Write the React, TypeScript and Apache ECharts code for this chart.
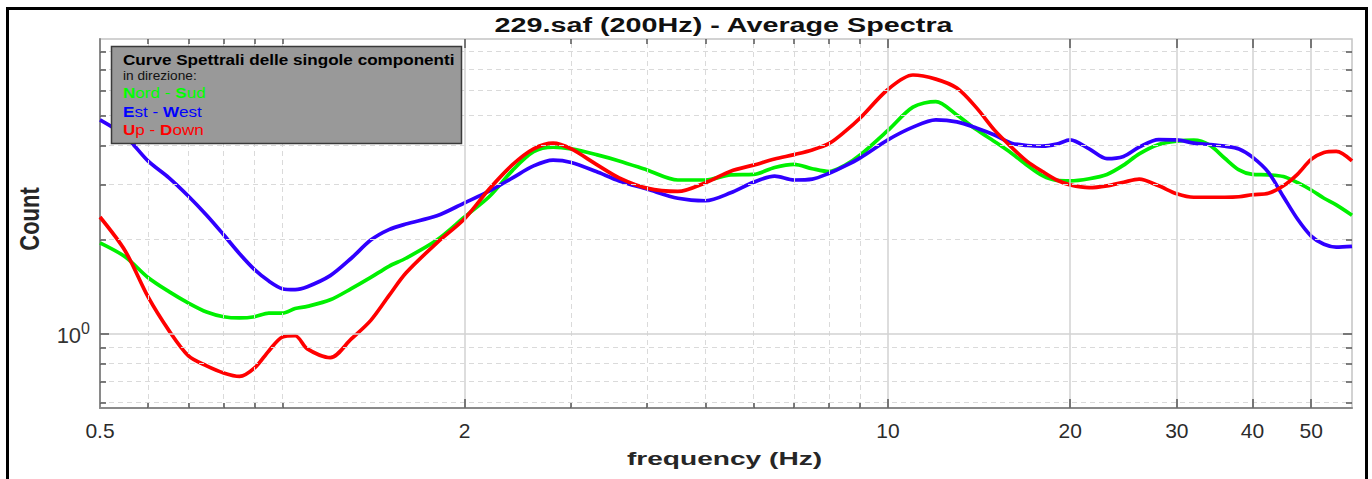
import React, { useEffect, useRef } from "react";
import * as echarts from "echarts";

// ---- data ----
const freqs = [
  0.5, 0.55, 0.6, 0.65, 0.7, 0.75, 0.8, 0.85, 0.9, 0.95,
  1.0, 1.05, 1.1, 1.2, 1.3, 1.4, 1.5, 1.6, 1.8,
  2.0, 2.2, 2.4, 2.6, 2.8, 3.0, 3.3, 3.6,
  4.0, 4.5, 5.0, 5.5, 6.0, 6.5, 7.0, 7.5, 8.0, 8.5, 9.0,
  10, 11, 12, 13, 14, 15, 16, 17, 18, 19,
  20, 21.5, 23, 24.5, 26, 28, 30, 32, 34, 36, 38,
  40, 42.5, 45, 47.5, 50, 52.5, 55, 58.4,
];

const nordSud = [
  1.95, 1.76, 1.51, 1.36, 1.25, 1.17, 1.13, 1.12, 1.13, 1.16,
  1.16, 1.2, 1.22, 1.28, 1.39, 1.51, 1.64, 1.74, 1.99,
  2.36, 2.75, 3.33, 3.82, 3.95, 3.9, 3.74, 3.57,
  3.34, 3.1, 3.1, 3.22, 3.23, 3.4, 3.48, 3.37, 3.3, 3.46, 3.73,
  4.47, 5.31, 5.53, 5.01, 4.5, 4.12, 3.78, 3.45, 3.2, 3.09,
  3.08, 3.13, 3.23, 3.46, 3.76, 4.03, 4.13, 4.16, 4.01, 3.64, 3.34,
  3.23, 3.22, 3.18, 3.04, 2.88, 2.71, 2.58, 2.39,
];

const estWest = [
  4.83, 4.29, 3.57, 3.15, 2.75, 2.39, 2.07, 1.8, 1.6, 1.47,
  1.39, 1.38, 1.41, 1.53, 1.74, 1.99, 2.15, 2.24, 2.38,
  2.62, 2.86, 3.15, 3.44, 3.59, 3.53, 3.3, 3.08,
  2.9, 2.71, 2.66, 2.82, 3.05, 3.19, 3.1, 3.12, 3.26, 3.44, 3.65,
  4.17, 4.58, 4.83, 4.76, 4.55, 4.32, 4.07, 4.0, 3.98, 4.04,
  4.17, 3.9, 3.63, 3.69, 3.95, 4.18, 4.17, 4.07, 4.03, 3.98, 3.9,
  3.67, 3.28, 2.74, 2.32, 2.05, 1.93, 1.89, 1.9,
];

const upDown = [
  2.36, 1.84, 1.31, 1.02, 0.846, 0.786, 0.746, 0.727, 0.774, 0.878,
  0.972, 0.982, 0.891, 0.835, 0.959, 1.1, 1.32, 1.56, 1.95,
  2.33, 2.91, 3.47, 3.9, 4.07, 3.9, 3.48, 3.15,
  2.92, 2.85, 3.04, 3.31, 3.46, 3.62, 3.74, 3.87, 4.06, 4.44, 4.9,
  6.05, 6.73, 6.53, 6.11, 5.29, 4.48, 3.95, 3.55, 3.3, 3.1,
  2.99, 2.93, 2.97, 3.05, 3.12, 2.97, 2.8, 2.73, 2.73, 2.73, 2.74,
  2.78, 2.81, 2.97, 3.24, 3.61, 3.8, 3.83, 3.57,
];

const xTickValues = [0.5, 2, 10, 20, 30, 40, 50];
const xTickLabels = ["0.5", "2", "10", "20", "30", "40", "50"];
const xMinorGrid = [0.6, 0.7, 0.8, 0.9, 1, 3, 4, 5, 6, 7, 8, 9];
const yMinorGrid = [0.6, 0.7, 0.8, 0.9, 2, 3, 4, 5, 6, 7, 8];
const yMajorGrid = [1];

const X_MIN = 0.5;
const X_MAX = 58.4;
const Y_MIN = 0.576;
const Y_MAX = 8.78;

const FONT = "'Liberation Sans', Arial, Helvetica, sans-serif";

export default function App() {
  const ref = useRef<HTMLDivElement>(null);

  useEffect(() => {
    if (!ref.current) return;
    const chart = echarts.init(ref.current, undefined, { renderer: "svg" });

    const plotW = 1252;
    const plotH = 369;
    const ky = (len: number) => Math.pow(Y_MAX / Y_MIN, len / plotH);
    const kx = (len: number) => Math.pow(X_MAX / X_MIN, len / plotW);

    const dashed = { color: "#dadada", width: 1, type: [5, 4] as any };
    const solid = { color: "#d2d2d2", width: 1.5, type: "solid" as any };

    const gridLines: any[] = [];
    xMinorGrid.forEach((v) => gridLines.push({ xAxis: v, lineStyle: dashed }));
    xTickValues.forEach((v, i) =>
      gridLines.push({
        xAxis: v,
        lineStyle: i === 0 ? { color: "transparent", width: 0 } : solid,
        label: {
          show: true,
          position: "start",
          formatter: xTickLabels[i],
          color: "#2b2b2b",
          fontSize: 21,
          fontFamily: FONT,
          distance: 12,
        },
      })
    );
    yMinorGrid.forEach((v) => gridLines.push({ yAxis: v, lineStyle: dashed }));
    yMajorGrid.forEach((v) => gridLines.push({ yAxis: v, lineStyle: solid }));

    const tickStyle = { color: "#555555", width: 1.5, type: "solid" as any };
    const ticks: any[] = [];
    const xTicksAll = [
      ...xMinorGrid.map((v) => ({ v, len: 5 })),
      ...xTickValues.slice(1).map((v) => ({ v, len: 9 })),
    ];
    xTicksAll.forEach(({ v, len }) => {
      ticks.push([
        { coord: [v, Y_MIN], lineStyle: tickStyle },
        { coord: [v, Y_MIN * ky(len)] },
      ]);
      ticks.push([
        { coord: [v, Y_MAX], lineStyle: tickStyle },
        { coord: [v, Y_MAX / ky(len)] },
      ]);
    });
    const yTicksAll = [
      ...yMinorGrid.map((v) => ({ v, len: 6 })),
      ...yMajorGrid.map((v) => ({ v, len: 9 })),
    ];
    yTicksAll.forEach(({ v, len }) => {
      ticks.push([
        { coord: [X_MIN, v], lineStyle: tickStyle },
        { coord: [X_MIN * kx(len), v] },
      ]);
      ticks.push([
        { coord: [X_MAX, v], lineStyle: tickStyle },
        { coord: [X_MAX / kx(len), v] },
      ]);
    });

    const curve = (name: string, vals: number[], color: string) => ({
      name,
      type: "line",
      data: freqs.map((f, i) => [f, vals[i]]),
      smooth: 0.3,
      showSymbol: false,
      symbol: "none",
      z: 3,
      lineStyle: { color, width: 3.7 },
      itemStyle: { color },
      silent: true,
    });

    chart.setOption({
      animation: false,
      backgroundColor: "#ffffff",
      grid: {
        left: 100,
        right: 20,
        top: 39,
        bottom: 71,
        show: true,
        borderColor: "#c4c4c4",
        borderWidth: 1.5,
        backgroundColor: "#ffffff",
      },
      xAxis: {
        type: "log",
        logBase: 10,
        min: X_MIN,
        max: X_MAX,
        axisLabel: { show: false },
        axisTick: { show: false },
        splitLine: { show: false },
        axisLine: { show: true, lineStyle: { color: "#8a8a8a", width: 2 } },
      },
      yAxis: {
        type: "log",
        logBase: 10,
        min: Y_MIN,
        max: Y_MAX,
        axisTick: { show: false },
        splitLine: { show: false },
        axisLine: { show: true, lineStyle: { color: "#8a8a8a", width: 2 } },
        axisLabel: {
          show: true,
          showMinLabel: false,
          showMaxLabel: false,
          margin: 10,
          formatter: (v: number) => (Math.abs(v - 1) < 1e-6 ? "{a|10}{b|0}" : ""),
          rich: {
            a: { fontSize: 22, color: "#333333", fontFamily: FONT, verticalAlign: "bottom" },
            b: {
              fontSize: 16,
              color: "#333333",
              fontFamily: FONT,
              verticalAlign: "bottom",
              padding: [0, 0, 10, 0],
            },
          },
        },
      },
      series: [
        {
          name: "grid",
          type: "line",
          data: [],
          z: 1,
          silent: true,
          markLine: {
            silent: true,
            symbol: "none",
            animation: false,
            label: { show: false },
            emphasis: { disabled: true },
            data: [...gridLines, ...ticks],
          },
        },
        curve("Nord - Sud", nordSud, "#00f000"),
        curve("Est - West", estWest, "#3000ff"),
        curve("Up - Down", upDown, "#ff0000"),
      ],
      graphic: [
        {
          type: "rect",
          z: 200,
          silent: true,
          shape: { x: 7.5, y: 8.5, width: 1359, height: 490 },
          style: { fill: "none", stroke: "#000000", lineWidth: 3 },
        },
        {
          type: "text",
          z: 200,
          x: 723.5,
          y: 24.5,
          scaleX: 1.37,
          style: {
            text: "229.saf (200Hz) - Average Spectra",
            fontSize: 21,
            fontWeight: "bold",
            fontFamily: FONT,
            fill: "#111111",
            align: "center",
            verticalAlign: "middle",
          },
        },
        {
          type: "text",
          z: 200,
          x: 724.5,
          y: 458.5,
          scaleX: 1.48,
          style: {
            text: "frequency (Hz)",
            fontSize: 19,
            fontWeight: "bold",
            fontFamily: FONT,
            fill: "#262626",
            align: "center",
            verticalAlign: "middle",
          },
        },
        {
          type: "text",
          z: 200,
          x: 29,
          y: 219,
          rotation: Math.PI / 2,
          scaleY: 1.27,
          style: {
            text: "Count",
            fontSize: 22,
            fontWeight: "bold",
            fontFamily: FONT,
            fill: "#262626",
            align: "center",
            verticalAlign: "middle",
          },
        },
        {
          type: "rect",
          z: 150,
          silent: true,
          shape: { x: 111.5, y: 46.5, width: 350, height: 97 },
          style: { fill: "#999999", stroke: "#3a3a3a", lineWidth: 1.5 },
        },
        {
          type: "group",
          z: 160,
          x: 123,
          y: 0,
          scaleX: 1.14,
          children: [
            {
              type: "text",
              z: 160,
              x: 0,
              y: 59.8,
              style: {
                text: "Curve Spettrali delle singole componenti",
                fontSize: 15,
                fontWeight: "bold",
                fontFamily: FONT,
                fill: "#000000",
                align: "left",
                verticalAlign: "middle",
              },
            },
            {
              type: "text",
              z: 160,
              x: 0,
              y: 75.8,
              style: {
                text: "in direzione:",
                fontSize: 12,
                fontFamily: FONT,
                fill: "#111111",
                align: "left",
                verticalAlign: "middle",
              },
            },
            {
              type: "text",
              z: 160,
              x: 0,
              y: 92.5,
              style: {
                text: "{b|N}{n|ord - }{b|S}{n|ud}",
                fontSize: 15,
                fontFamily: FONT,
                fill: "#00ff00",
                align: "left",
                verticalAlign: "middle",
                rich: {
                  b: { fontSize: 15, fontWeight: "bold", fontFamily: FONT, fill: "#00ff00" },
                  n: { fontSize: 15, fontFamily: FONT, fill: "#00ff00" },
                },
              },
            },
            {
              type: "text",
              z: 160,
              x: 0,
              y: 111.3,
              style: {
                text: "{b|E}{n|st - }{b|W}{n|est}",
                fontSize: 15,
                fontFamily: FONT,
                fill: "#0000ff",
                align: "left",
                verticalAlign: "middle",
                rich: {
                  b: { fontSize: 15, fontWeight: "bold", fontFamily: FONT, fill: "#0000ff" },
                  n: { fontSize: 15, fontFamily: FONT, fill: "#0000ff" },
                },
              },
            },
            {
              type: "text",
              z: 160,
              x: 0,
              y: 129.7,
              style: {
                text: "{b|U}{n|p - }{b|D}{n|own}",
                fontSize: 15,
                fontFamily: FONT,
                fill: "#ff0000",
                align: "left",
                verticalAlign: "middle",
                rich: {
                  b: { fontSize: 15, fontWeight: "bold", fontFamily: FONT, fill: "#ff0000" },
                  n: { fontSize: 15, fontFamily: FONT, fill: "#ff0000" },
                },
              },
            },
          ],
        },
      ],
    });

    return () => {
      chart.dispose();
    };
  }, []);

  return (
    <div
      ref={ref}
      style={{
        position: "absolute",
        left: 0,
        top: 0,
        width: "1372px",
        height: "479px",
        background: "#ffffff",
      }}
    />
  );
}
